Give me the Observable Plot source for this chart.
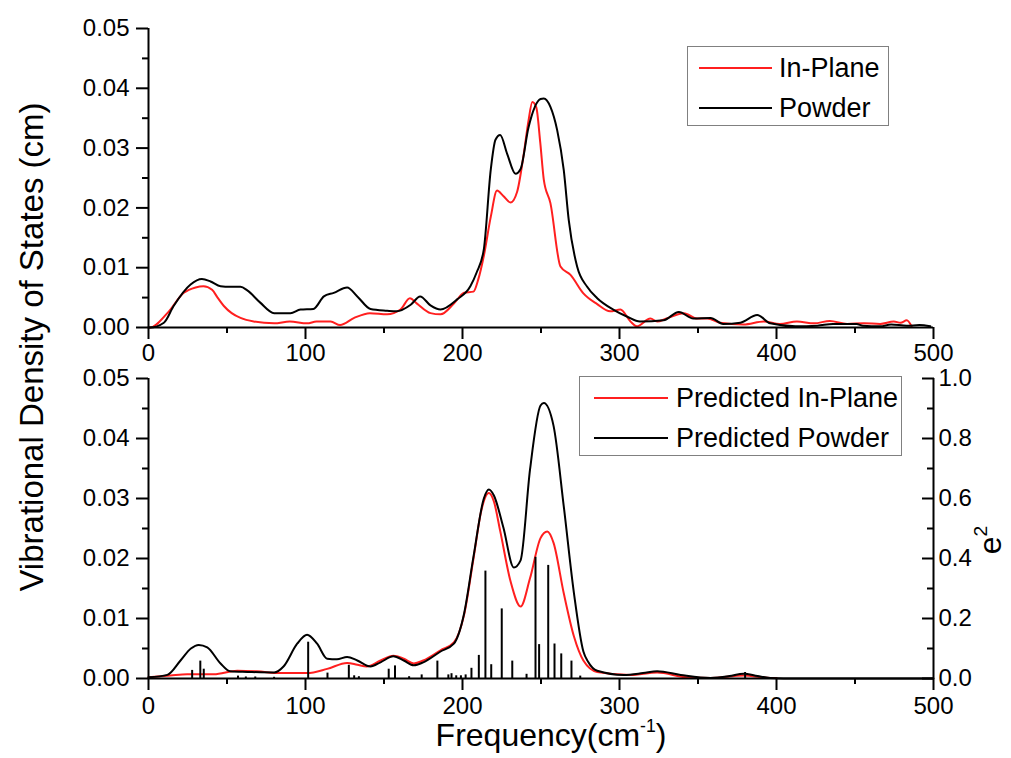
<!DOCTYPE html>
<html>
<head>
<meta charset="utf-8">
<script src="https://cdn.jsdelivr.net/npm/d3@7"></script>
<script src="https://cdn.jsdelivr.net/npm/@observablehq/plot@0.6"></script>
<style>
  html, body { margin: 0; padding: 0; background: #fff; }
  #wrap { position: relative; width: 1011px; height: 758px; overflow: hidden; font-family: "Liberation Sans", Arial, sans-serif; color: #000; }
  #wrap svg { position: absolute; left: 0; }
  .legend { position: absolute; border: 1px solid #808080; background: #fff; box-sizing: border-box; }
  .legend .sw { position: absolute; height: 2px; }
  .legend .tx { position: absolute; font-size: 27px; line-height: 30px; white-space: nowrap; }
  .ttl { position: absolute; white-space: nowrap; line-height: 1; }
</style>
</head>
<body>
<div id="wrap"></div>
<script>
// ---------- data ----------
// frequency (cm^-1), vibrational density of states (cm)
const topInPlane = [[0,0],[1,0],[12,0.0024],[22.5,0.0058],[30,0.0067],[35,0.0069],[40.5,0.0063],[44,0.005],[48,0.0036],[53,0.0024],[58.6,0.0016],[67,0.001],[80,0.0007],[90,0.001],[101,0.0007],[107,0.001],[116,0.001],[122,0.0004],[131,0.0016],[141,0.0024],[152,0.0022],[160.5,0.003],[166.5,0.0049],[171,0.004],[179.6,0.0024],[186,0.0022],[194.5,0.004],[201,0.0058],[207,0.006],[210,0.008],[213.6,0.012],[218,0.0185],[222,0.0229],[226,0.022],[230.6,0.0209],[234.8,0.0227],[239,0.029],[242,0.0345],[244.5,0.0377],[247,0.0368],[249.5,0.031],[251.8,0.0247],[256,0.0208],[262.4,0.0102],[268.8,0.0088],[277,0.0057],[285.8,0.0039],[294,0.0027],[300.6,0.003],[307,0.001],[311,0.0002],[319.7,0.0015],[324,0.001],[330,0.0015],[341,0.0024],[349.5,0.0015],[356,0.0015],[364,0.0008],[379,0.0005],[392,0.001],[402,0.0006],[413,0.001],[424,0.0007],[434,0.0011],[445,0.0006],[455.6,0.0007],[466,0.0006],[474.7,0.001],[479,0.0008],[483,0.0012],[486,0.0002]];
const topPowder = [[0,0],[1,0],[9.8,0.0008],[16,0.0036],[26.8,0.0072],[34,0.0081],[39.5,0.0077],[45.9,0.0069],[52,0.0068],[58.6,0.0068],[62.9,0.0062],[71,0.0042],[80,0.0024],[90.4,0.0024],[96.8,0.003],[105,0.0031],[111.7,0.0052],[118,0.0058],[126.5,0.0067],[133,0.0052],[141.4,0.0031],[152,0.0028],[158,0.0027],[167,0.0038],[173,0.0052],[179.6,0.0037],[186,0.003],[196.6,0.0047],[205,0.0069],[209,0.0092],[213.6,0.0131],[218,0.0264],[221,0.0314],[224,0.0322],[228.5,0.029],[233.8,0.0257],[237,0.0265],[242,0.0334],[249.7,0.0382],[251.8,0.0383],[256,0.0369],[260.3,0.033],[264.5,0.0263],[267.7,0.0179],[273,0.0102],[279.4,0.0068],[285.8,0.0049],[296,0.003],[305,0.0018],[313,0.001],[328,0.0012],[337.8,0.0026],[347,0.0015],[358,0.0016],[366,0.0006],[377,0.0008],[387.7,0.0021],[396,0.0007],[412,0.0002],[426,0.0003],[436,0.0006],[451,0.0006],[455,0.0003],[466,0.0002],[473,0.0005],[483,0.0003],[491,0.0004],[498,0.0002]];
const predInPlane = [[0,0.0002],[14,0.0005],[24.6,0.0007],[41.6,0.0007],[56.5,0.0013],[69,0.0012],[84,0.0009],[101,0.0009],[113.8,0.0016],[126.5,0.0026],[133,0.0023],[139,0.002],[147.8,0.003],[156,0.0038],[162.6,0.0033],[169,0.0025],[175,0.003],[186,0.0047],[194.5,0.006],[201,0.0106],[207,0.02],[212,0.028],[216.8,0.0309],[220,0.0295],[224,0.0246],[230.6,0.0162],[237,0.012],[243,0.0167],[249.7,0.0234],[254,0.0245],[258,0.0226],[264.5,0.0142],[271,0.007],[277,0.003],[285.8,0.0011],[307,0.0006],[324,0.001],[343,0.0002],[358,0.0001],[379,0.0005],[396,0.0001],[400,0.0001]];
const predPowder = [[0,0.0002],[12,0.0006],[20.4,0.003],[27,0.005],[32,0.0056],[37.4,0.0052],[45.9,0.0025],[52,0.0012],[63,0.0011],[80,0.001],[86,0.002],[94.7,0.0058],[101,0.0073],[107.4,0.0058],[113.8,0.0033],[120,0.0032],[126.5,0.0036],[133,0.003],[141.4,0.002],[147.8,0.0027],[156,0.0037],[162.6,0.003],[169,0.0022],[175,0.0027],[186,0.0045],[194.5,0.0058],[201,0.0108],[207,0.0203],[213.6,0.03],[216.8,0.0315],[220,0.0305],[226,0.0252],[232.7,0.0185],[237,0.0197],[243,0.0348],[249.7,0.0455],[251.8,0.0459],[258,0.0421],[264.5,0.0287],[271,0.0142],[277,0.0045],[280,0.0028],[285.8,0.0013],[302.7,0.0006],[315,0.0009],[324,0.0012],[339,0.0006],[358,0.0001],[370,0.0004],[379,0.0008],[388,0.0004],[396,0.0001],[413,0],[500,0]];
// mode frequency (cm^-1), e^2
const modes = [[27.8,0.027],[33,0.058],[35.2,0.031],[57,0.008],[62,0.005],[68,0.005],[80,0.004],[101.7,0.121],[114,0.018],[127.6,0.044],[131,0.009],[134,0.006],[153,0.031],[157,0.042],[166,0.006],[174,0.012],[184,0.058],[191,0.012],[193,0.016],[196,0.009],[199,0.009],[202,0.012],[205.7,0.034],[210.4,0.077],[214.6,0.358],[218.3,0.046],[225,0.232],[231.7,0.058],[240.8,0.014],[246.5,0.404],[248.8,0.113],[254.6,0.377],[258.6,0.115],[262.9,0.082],[269.4,0.058],[275,0.008],[380,0.02]];

const xMajor = [0, 100, 200, 300, 400, 500];
const xMinor = [50, 150, 250, 350, 450];
const yMajor = [0, 0.01, 0.02, 0.03, 0.04, 0.05];
const yMinor = [0.005, 0.015, 0.025, 0.035, 0.045];
const eMajor = [0, 0.2, 0.4, 0.6, 0.8, 1.0];
const eMinor = [0.1, 0.3, 0.5, 0.7, 0.9];

const RED = "#ff1f1f";
const fx = d => d[0], fy = d => d[1];
const baseStyle = {fontFamily: "'Liberation Sans', Arial, sans-serif", fontSize: "24px", background: "transparent", overflow: "visible", color: "#000"};

function axesXY(xPad) {
  return [
    Plot.axisX({ticks: xMajor, tickSize: 12, tickPadding: xPad, tickFormat: d => String(d), strokeWidth: 2, label: null}),
    Plot.axisX({ticks: xMinor, tickSize: 6, tickFormat: () => "", strokeWidth: 2, label: null}),
    Plot.axisY({ticks: yMajor, tickSize: 12, tickPadding: 7, tickFormat: d3.format(".2f"), strokeWidth: 2, label: null}),
    Plot.axisY({ticks: yMinor, tickSize: 6, tickFormat: () => "", strokeWidth: 2, label: null}),
    Plot.ruleX([0], {strokeWidth: 2}),
    Plot.ruleY([0], {strokeWidth: 2})
  ];
}

const wrap = document.getElementById("wrap");

const topPlot = Plot.plot({
  width: 1011, height: 378,
  marginLeft: 148, marginRight: 78, marginTop: 28, marginBottom: 51,
  style: baseStyle,
  x: {domain: [0, 500]},
  y: {domain: [0, 0.05]},
  marks: [
    Plot.line(topInPlane, {x: fx, y: fy, stroke: RED, strokeWidth: 2, curve: "monotone-x"}),
    Plot.line(topPowder, {x: fx, y: fy, stroke: "#000", strokeWidth: 2, curve: "monotone-x"}),
    ...axesXY(4)
  ]
});
topPlot.style.top = "0px";
wrap.appendChild(topPlot);

const bottomPlot = Plot.plot({
  width: 1011, height: 408,
  marginLeft: 148, marginRight: 78, marginTop: 28, marginBottom: 80,
  style: baseStyle,
  x: {domain: [0, 500]},
  y: {domain: [0, 0.05]},
  marks: [
    Plot.line(predInPlane, {x: fx, y: fy, stroke: RED, strokeWidth: 2, curve: "monotone-x"}),
    Plot.line(predPowder, {x: fx, y: fy, stroke: "#000", strokeWidth: 2, curve: "monotone-x"}),
    ...axesXY(6),
    Plot.ruleX([500], {strokeWidth: 2})
  ]
});
bottomPlot.style.top = "350px";
wrap.appendChild(bottomPlot);

const overlayPlot = Plot.plot({
  width: 1011, height: 408,
  marginLeft: 148, marginRight: 78, marginTop: 28, marginBottom: 80,
  style: baseStyle,
  x: {domain: [0, 500], axis: null},
  y: {domain: [0, 1]},
  marks: [
    Plot.ruleX(modes, {x: fx, y1: 0, y2: fy, stroke: "#000", strokeWidth: 2}),
    Plot.axisY({anchor: "right", ticks: eMajor, tickSize: -12, tickPadding: 17, tickFormat: d3.format(".1f"), strokeWidth: 2, label: null}),
    Plot.axisY({anchor: "right", ticks: eMinor, tickSize: -7, tickPadding: 0, tickFormat: () => "", strokeWidth: 2, label: null})
  ]
});
overlayPlot.style.top = "350px";
wrap.appendChild(overlayPlot);

// titles
const yt = document.createElement("div");
yt.className = "ttl";
yt.style.cssText += "left:31px;top:347px;font-size:33px;transform:translate(-50%,-50%) rotate(-90deg);";
yt.textContent = "Vibrational Density of States (cm)";
wrap.appendChild(yt);

const xt = document.createElement("div");
xt.className = "ttl";
xt.style.cssText += "left:551px;top:723px;font-size:32px;line-height:0.8;transform:translateX(-50%);";
xt.innerHTML = 'Frequency(cm<sup style="font-size:0.55em;vertical-align:0.8em;line-height:0">-1</sup>)';
wrap.appendChild(xt);

const et = document.createElement("div");
et.className = "ttl";
et.style.cssText += "left:990px;top:540px;font-size:32px;transform:translate(-50%,-50%) rotate(-90deg);";
et.innerHTML = 'e<sup style="font-size:0.6em;vertical-align:0.75em;line-height:0">2</sup>';
wrap.appendChild(et);

// legends
function legend(left, topPx, w, h, items, lineLeft, lineW, textLeft) {
  const box = document.createElement("div");
  box.className = "legend";
  box.style.cssText += `left:${left}px;top:${topPx}px;width:${w}px;height:${h}px;`;
  items.forEach(it => {
    const sw = document.createElement("div");
    sw.className = "sw";
    sw.style.cssText += `left:${lineLeft}px;width:${lineW}px;top:${it.cy - 1}px;background:${it.color};`;
    box.appendChild(sw);
    const tx = document.createElement("div");
    tx.className = "tx";
    tx.style.cssText += `left:${textLeft}px;top:${it.cy - 15}px;`;
    tx.textContent = it.label;
    box.appendChild(tx);
  });
  wrap.appendChild(box);
}
legend(687, 46, 202, 80, [
  {label: "In-Plane", color: RED, cy: 21},
  {label: "Powder", color: "#000", cy: 61}
], 11, 73, 91);
legend(579, 376, 323, 80, [
  {label: "Predicted In-Plane", color: RED, cy: 21},
  {label: "Predicted Powder", color: "#000", cy: 61}
], 14, 74, 96);
</script>
</body>
</html>
